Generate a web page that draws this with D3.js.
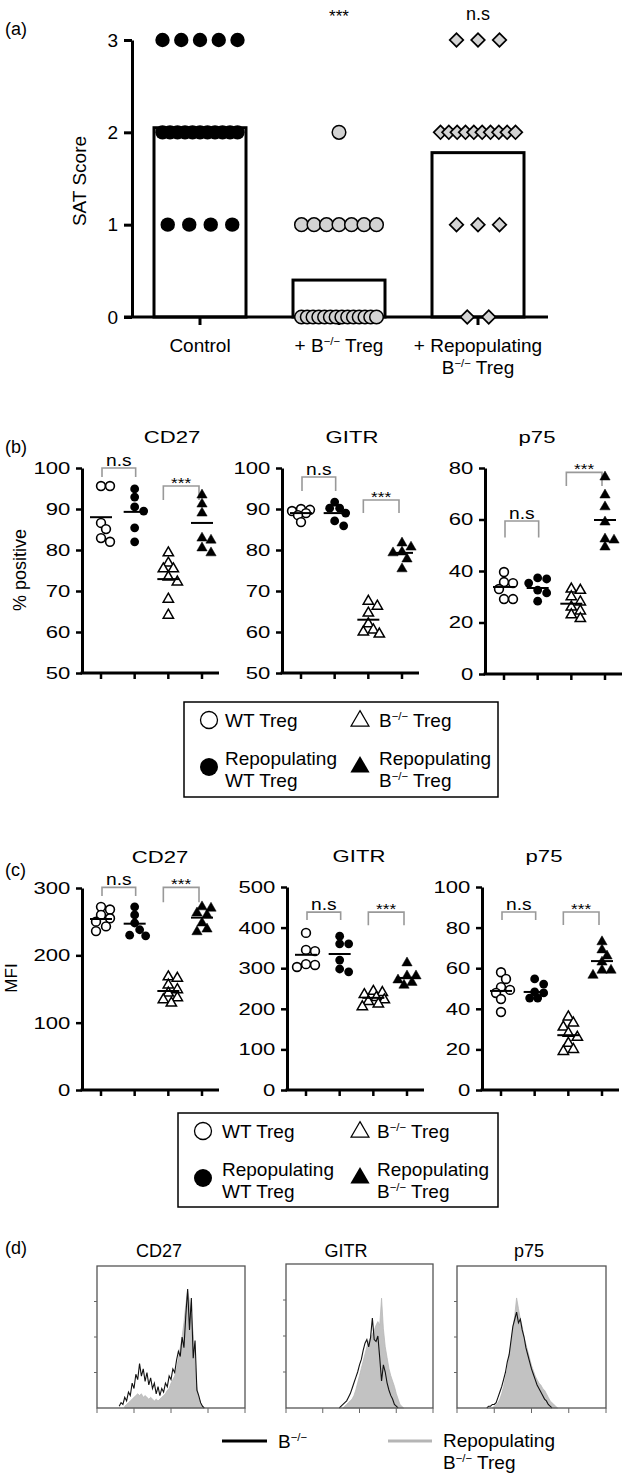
<!DOCTYPE html>
<html><head><meta charset="utf-8">
<script src="https://cdn.jsdelivr.net/npm/d3@7"></script>
<style>body{margin:0;background:#fff}svg{display:block}</style>
</head><body><svg id="c" width="622" height="1475"></svg>
<script>
// ---------------- DATA ----------------
// (a) SAT score
const satGroups = ["Control", "+ B−/− Treg", "+ Repopulating B−/− Treg"];
const satControl = [3,3,3,3,3, 2,2,2,2,2,2,2,2,2,2,2, 1,1,1,1];
const satBko = [2, 1,1,1,1,1,1,1, 0,0,0,0,0,0,0,0,0,0,0,0,0,0];
const satRepop = [3,3,3, 2,2,2,2,2,2,2,2,2,2, 1,1,1, 0,0];
const satMeans = [2.05, 0.40, 1.78];
const satTicks = [0, 1, 2, 3];
const satSig = ["", "***", "n.s"];

// (b),(c) groups
const cellGroups = ["WT Treg", "Repopulating WT Treg", "B−/− Treg", "Repopulating B−/− Treg"];
const markers = ["CD27", "GITR", "p75"];

// (b) % positive
const pctCD27 = [[95.6,95.6,86.6,85.1,82.9,82.0],[94.9,92.9,90.5,89.5,85.4,82.0],[79.3,76.8,75.4,75.4,73.4,72.2,68.0,64.1],[93.4,91.2,89.0,82.9,82.4,80.5,79.3]];
const pctCD27Mean = [88.0, 89.3, 72.9, 86.6];
const pctGITR = [[90.0,89.8,89.5,89.0,88.5,86.8],[91.7,90.2,90.2,89.0,87.1,85.9],[67.5,66.3,64.6,62.0,60.5,59.5,60.0],[81.7,80.7,79.5,79.3,77.8,75.4]];
const pctGITRMean = [89.0, 89.0, 63.0, 79.3];
const pctP75 = [[39.6,35.7,35.3,33.0,29.1,29.1],[37.3,36.9,35.3,32.6,31.5,28.3],[33.0,32.5,30.0,28.0,26.0,24.5,23.0,21.5],[76.5,69.5,64.9,59.0,52.4,52.0,49.3]];
const pctP75Mean = [33.8, 33.4, 27.3, 59.8];
const pctTicksCD27 = [50,60,70,80,90,100];
const pctTicksGITR = [50,60,70,80,90,100];
const pctTicksP75 = [0,20,40,60,80];
// significance: [label, top, legEnd]
const pctSigCD27 = [["n.s",100,97.8],["***",95.6,92.2]];
const pctSigGITR = [["n.s",97.8,94.4],["***",92.2,89.0]];
const pctSigP75 = [["n.s",59.4,53.0],["***",78.3,73.0]];

// (c) MFI
const mfiCD27 = [[272,268,260,255,250,243,236],[272,260,248,238,229,230],[168,166,156,149,144,137,134,129],[272,270,263,260,248,239,235]];
const mfiCD27Mean = [254, 247, 147, 256];
const mfiGITR = [[387,345,342,310,303,308],[379,360,360,320,298,291],[243,240,235,228,222,218,212,205],[313,281,281,271,265,258]];
const mfiGITRMean = [333, 335, 227, 276];
const mfiP75 = [[58,54.7,50.7,49.3,47.8,44.8,38.4],[54.7,52.2,48.3,47.8,45.3,45.3],[36,33,31,28,26,23,20,19],[73,69,66,63,59,59,56.5]];
const mfiP75Mean = [48.8, 48.3, 27.0, 63.5];
const mfiTicksCD27 = [0,100,200,300];
const mfiTicksGITR = [0,100,200,300,400,500];
const mfiTicksP75 = [0,20,40,60,80,100];
const mfiSigCD27 = [["n.s",301,288],["***",301,279]];
const mfiSigGITR = [["n.s",438,419],["***",438,406]];
const mfiSigP75 = [["n.s",87.7,83.7],["***",87.7,81.3]];

// (d) histograms (log decades 0-4, bins of 0.05 decade)
const binWidth = 0.05;
const cd27KoStart = 0.60;
const cd27Ko = [0.05,0.15,0.1,0.3,0.2,0.45,0.35,0.7,0.55,0.95,0.8,1.25,0.9,1.1,0.75,1.0,0.65,0.85,0.55,0.7,0.4,0.6,0.35,0.55,0.45,0.7,0.6,0.9,0.8,1.1,1.0,1.35,1.6,1.45,2.0,1.7,2.6,3.35,2.2,3.1,1.4,1.9,0.5,0.35,0.15,0.05,0];
const cd27RepStart = 0.75;
const cd27Rep = [0.05,0.1,0.15,0.2,0.25,0.3,0.35,0.4,0.35,0.4,0.3,0.35,0.3,0.25,0.3,0.25,0.2,0.25,0.2,0.25,0.3,0.35,0.4,0.5,0.55,0.7,0.8,0.9,1.1,1.4,1.7,2.0,2.4,2.9,3.3,3.0,2.6,2.1,1.2,0.6,0.3,0.15,0.05,0];
const gitrKoStart = 1.45;
const gitrKo = [0,0.05,0.1,0.15,0.2,0.3,0.4,0.55,0.7,0.85,1.0,1.2,1.35,1.6,1.8,1.9,1.7,1.95,2.5,1.9,1.85,2.0,1.4,0.75,1.2,1.0,0.7,0.5,0.35,0.25,0.1,0.05,0];
const gitrRepStart = 1.55;
const gitrRep = [0,0.05,0.1,0.15,0.2,0.25,0.35,0.5,0.7,0.9,1.1,1.3,1.5,1.7,1.85,1.95,2.05,2.15,2.3,2.4,2.3,3.05,2.2,1.7,1.4,1.1,0.9,0.75,0.6,0.4,0.25,0.1,0.05,0];
const p75KoStart = 0.80;
const p75Ko = [0,0.05,0.05,0.1,0.1,0.15,0.3,0.45,0.6,0.8,1.0,1.3,1.5,1.9,2.3,2.5,2.7,2.4,2.5,2.2,2.0,1.7,1.5,1.3,1.1,0.95,0.8,0.65,0.55,0.45,0.35,0.25,0.2,0.1,0.05,0];
const p75RepStart = 0.95;
const p75Rep = [0,0.05,0.1,0.15,0.25,0.4,0.6,0.85,1.1,1.5,1.8,2.2,2.6,3.1,2.8,2.5,2.3,2.0,1.8,1.6,1.4,1.2,1.05,0.9,0.8,0.7,0.65,0.55,0.5,0.4,0.3,0.2,0.15,0.1,0.05,0];
const histXTicks = [0,1,2,3,4];
const histYTicks = [1,2,3];

// ---------------- DRAW ----------------
const FONT = '"Liberation Sans", Arial, Helvetica, sans-serif';
const svg = d3.select("#c").attr("font-family", FONT);
const GRAYFILL = "#d3d3d3";

function rich(parent, x, y, parts, size, anchor, transform) {
  const t = parent.append("text").attr("font-size", size).attr("text-anchor", anchor || "start");
  if (transform) t.attr("transform", transform); else t.attr("x", x).attr("y", y);
  let up = false;
  parts.forEach(p => {
    const s = t.append("tspan");
    if (typeof p === "string") {
      if (up) { s.attr("dy", size * 0.38); up = false; }
      s.text(p);
    } else {
      s.attr("font-size", size * 0.6).attr("dy", -size * 0.38).text(p.sup);
      up = true;
    }
  });
  return t;
}
const SUP = {sup: "−/−"};

// ---- panel labels
[["(a)", 35], ["(b)", 453], ["(c)", 876], ["(d)", 1254]].forEach(([l, y]) =>
  svg.append("text").attr("x", 5).attr("y", y).attr("font-size", 18).text(l));

// ---- (a)
(function () {
  const g = svg.append("g");
  const y = d3.scaleLinear().domain([0, 3]).range([317, 40]);
  const x = d3.scalePoint().domain(satGroups).range([200, 478]);
  g.selectAll("rect.bar").data(satMeans).join("rect")
    .attr("x", (d, i) => x(satGroups[i]) - 46).attr("width", 92)
    .attr("y", d => y(d)).attr("height", d => y(0) - y(d))
    .attr("fill", "none").attr("stroke", "#000").attr("stroke-width", 3);
  const ya = g.append("g").attr("transform", "translate(132,0)")
    .call(d3.axisLeft(y).tickValues(satTicks).tickFormat(d3.format("d")).tickSize(8).tickSizeOuter(0).tickPadding(6));
  ya.attr("font-family", FONT).attr("font-size", 19);
  ya.selectAll("path,line").attr("stroke", "#000").attr("stroke-width", 3);
  ya.selectAll("text").attr("fill", "#000");
  g.append("line").attr("x1", 124).attr("x2", 548).attr("y1", y(0)).attr("y2", y(0)).attr("stroke", "#000").attr("stroke-width", 3);
  g.selectAll("line.xt").data(satGroups).join("line")
    .attr("x1", d => x(d)).attr("x2", d => x(d)).attr("y1", y(0)).attr("y2", y(0) + 8)
    .attr("stroke", "#000").attr("stroke-width", 3);
  rich(g, x(satGroups[0]), 352, ["Control"], 19, "middle");
  rich(g, x(satGroups[1]), 352, ["+ B", SUP, " Treg"], 19, "middle");
  rich(g, x(satGroups[2]), 352, ["+ Repopulating"], 19, "middle");
  rich(g, x(satGroups[2]), 374, ["B", SUP, " Treg"], 19, "middle");
  g.append("text").attr("transform", "translate(86,181) rotate(-90)").attr("text-anchor", "middle").attr("font-size", 19).text("SAT Score");
  g.append("text").attr("x", x(satGroups[1])).attr("y", 22).attr("text-anchor", "middle").attr("font-size", 17).text(satSig[1]);
  g.append("text").attr("x", x(satGroups[2])).attr("y", 20).attr("text-anchor", "middle").attr("font-size", 18).text(satSig[2]);
  function rowPos(vals, cx) {
    const out = [];
    d3.groups(vals, v => v).forEach(([v, arr]) => {
      const n = arr.length;
      const sp = n > 1 ? Math.min(21.5, 75 / (n - 1)) : 0;
      arr.forEach((_, i) => out.push({v, x: cx + (i - (n - 1) / 2) * sp}));
    });
    return out;
  }
  const c0 = rowPos(satControl, x(satGroups[0]));
  g.selectAll("circle.c0").data(c0).join("circle").attr("cx", d => d.x).attr("cy", d => y(d.v)).attr("r", 7.2).attr("fill", "#000");
  const c1 = rowPos(satBko, x(satGroups[1]));
  g.selectAll("circle.c1").data(c1).join("circle").attr("cx", d => d.x).attr("cy", d => y(d.v)).attr("r", 6.8)
    .attr("fill", GRAYFILL).attr("stroke", "#000").attr("stroke-width", 1.5);
  const c2 = rowPos(satRepop, x(satGroups[2]));
  const dia = d3.symbol(d3.symbolSquare, 92)();
  g.selectAll("path.c2").data(c2).join("path").attr("d", dia)
    .attr("transform", d => `translate(${d.x},${y(d.v)}) rotate(45)`)
    .attr("fill", GRAYFILL).attr("stroke", "#000").attr("stroke-width", 1.7);
})();

// ---- dot charts (b), (c)
function swarm(vals, y, cx) {
  const placed = [];
  const idx = vals.map((v, i) => i).sort((a, b) => vals[b] - vals[a]);
  const res = new Array(vals.length);
  const cands = [0, 5, -5, 9, -9, 3, -3, 7, -7, 11, -11];
  idx.forEach((i, k) => {
    const py = y(vals[i]);
    let best = 0, bestD = -1;
    for (const o of cands) {
      const d = placed.length ? d3.min(placed, p => Math.hypot(p.x - (cx + o), p.y - py)) : 99;
      if (d >= 7.5) { best = o; bestD = d; break; }
      if (d > bestD) { bestD = d; best = o; }
    }
    const p = {x: cx + best, y: py};
    placed.push(p); res[i] = p;
  });
  return res;
}
const triSmall = d3.symbol(d3.symbolTriangle, 46)();
function drawMarker(sel, gi, r) {
  if (gi < 2) {
    sel.append("circle").attr("r", r).attr("fill", gi === 0 ? "#fff" : "#000").attr("stroke", "#000").attr("stroke-width", gi === 0 ? 1.6 : 0);
  } else {
    sel.append("path").attr("d", triSmall).attr("fill", gi === 2 ? "#fff" : "#000").attr("stroke", "#000").attr("stroke-width", gi === 2 ? 1.5 : 0.5);
  }
}
function dotChart(cfg) {
  const g = svg.append("g");
  const SX = 1.3;
  const y = d3.scaleLinear().domain([cfg.ticks[0], cfg.ticks[cfg.ticks.length - 1]]).range([cfg.y0, cfg.y1]);
  const x = d3.scalePoint().domain(cellGroups).range([cfg.ax + 19, cfg.ax + 120]);
  const ya = g.append("g").attr("transform", `translate(${cfg.ax},0)`)
    .call(d3.axisLeft(y).tickValues(cfg.ticks).tickSize(6).tickSizeOuter(0).tickPadding(3));
  ya.attr("font-family", FONT).attr("font-size", 17);
  ya.select(".domain").attr("stroke", "#000").attr("stroke-width", 3);
  ya.selectAll(".tick line").attr("stroke", "#000").attr("stroke-width", 2.5);
  ya.selectAll(".tick text").attr("fill", "#000").attr("transform", `scale(${SX},1)`);
  g.append("line").attr("x1", cfg.ax - 1.5).attr("x2", cfg.ax + 137).attr("y1", cfg.y0).attr("y2", cfg.y0).attr("stroke", "#000").attr("stroke-width", 3);
  g.selectAll("line.xt").data(cellGroups).join("line").attr("x1", d => x(d)).attr("x2", d => x(d))
    .attr("y1", cfg.y0).attr("y2", cfg.y0 + 6).attr("stroke", "#000").attr("stroke-width", 2.5);
  g.append("text").attr("transform", `translate(${cfg.tx},${cfg.ty}) scale(${SX},1)`).attr("text-anchor", "middle").attr("font-size", 17).text(cfg.title);
  cfg.sig.forEach(([lab, top, leg], k) => {
    const xa = k === 0 ? x(cellGroups[0]) + 1 : x(cellGroups[2]) - 5;
    const xb = k === 0 ? x(cellGroups[1]) + 1 : x(cellGroups[3]) - 3;
    g.append("path").attr("d", `M${xa},${y(leg)}V${y(top)}H${xb}V${y(leg)}`)
      .attr("fill", "none").attr("stroke", "#999").attr("stroke-width", 1.6);
    if (lab === "n.s")
      g.append("text").attr("transform", `translate(${(xa + xb) / 2},${y(top) - 2}) scale(1.2,1)`).attr("text-anchor", "middle").attr("font-size", 16).text(lab);
    else
      g.append("text").attr("transform", `translate(${(xa + xb) / 2},${y(top) + 2}) scale(1.15,1)`).attr("text-anchor", "middle").attr("font-size", 15).text(lab);
  });
  cfg.data.forEach((vals, gi) => {
    const pts = swarm(vals, y, x(cellGroups[gi]));
    pts.forEach(p => {
      const m = g.append("g").attr("transform", `translate(${p.x},${p.y})`);
      drawMarker(m, gi, 4.4);
    });
    g.append("line").attr("x1", x(cellGroups[gi]) - 11).attr("x2", x(cellGroups[gi]) + 11)
      .attr("y1", y(cfg.means[gi])).attr("y2", y(cfg.means[gi])).attr("stroke", "#000").attr("stroke-width", 2);
  });
  return g;
}
dotChart({ax: 82, y0: 673, y1: 468, ticks: pctTicksCD27, data: pctCD27, means: pctCD27Mean, sig: pctSigCD27, title: markers[0], tx: 172, ty: 443});
dotChart({ax: 282, y0: 673, y1: 468, ticks: pctTicksGITR, data: pctGITR, means: pctGITRMean, sig: pctSigGITR, title: markers[1], tx: 352, ty: 443});
dotChart({ax: 485, y0: 674, y1: 468, ticks: pctTicksP75, data: pctP75, means: pctP75Mean, sig: pctSigP75, title: markers[2], tx: 537, ty: 443});
svg.append("text").attr("transform", "translate(26,570) rotate(-90)").attr("text-anchor", "middle").attr("font-size", 18).text("% positive");

dotChart({ax: 82, y0: 1090, y1: 888, ticks: mfiTicksCD27, data: mfiCD27, means: mfiCD27Mean, sig: mfiSigCD27, title: markers[0], tx: 160, ty: 863});
dotChart({ax: 287, y0: 1090, y1: 887, ticks: mfiTicksGITR, data: mfiGITR, means: mfiGITRMean, sig: mfiSigGITR, title: markers[1], tx: 359, ty: 862});
dotChart({ax: 482, y0: 1090, y1: 887, ticks: mfiTicksP75, data: mfiP75, means: mfiP75Mean, sig: mfiSigP75, title: markers[2], tx: 544, ty: 862});
svg.append("text").attr("transform", "translate(17,978) rotate(-90)").attr("text-anchor", "middle").attr("font-size", 17).text("MFI");

// ---- legends (b),(c)
function legend(x0, y0, w, h, cx1, tx1, cx2, tx2) {
  const g = svg.append("g");
  g.append("rect").attr("x", x0).attr("y", y0).attr("width", w).attr("height", h).attr("fill", "none").attr("stroke", "#000").attr("stroke-width", 1.5);
  const r1 = y0 + 18, r2 = y0 + 65;
  g.append("circle").attr("cx", cx1).attr("cy", r1).attr("r", 8.5).attr("fill", "#fff").attr("stroke", "#000").attr("stroke-width", 1.3);
  g.append("circle").attr("cx", cx1).attr("cy", r2).attr("r", 9).attr("fill", "#000");
  g.append("path").attr("d", d3.symbol(d3.symbolTriangle, 140)()).attr("transform", `translate(${cx2},${r1 + 1})`).attr("fill", "#fff").attr("stroke", "#000").attr("stroke-width", 1.2);
  g.append("path").attr("d", d3.symbol(d3.symbolTriangle, 160)()).attr("transform", `translate(${cx2},${r2})`).attr("fill", "#000");
  rich(g, tx1, r1 + 7, ["WT Treg"], 19);
  rich(g, tx2, r1 + 7, ["B", SUP, " Treg"], 19);
  rich(g, tx1, r2 - 2, ["Repopulating"], 19);
  rich(g, tx1, r2 + 20, ["WT Treg"], 19);
  rich(g, tx2, r2 - 2, ["Repopulating"], 19);
  rich(g, tx2, r2 + 20, ["B", SUP, " Treg"], 19);
}
legend(184, 702, 314, 95, 209, 225, 360, 379);
legend(178, 1113, 320, 94, 203, 222, 360, 377);

// ---- (d) histograms
function hist(cfg) {
  const g = svg.append("g");
  const x = d3.scaleLinear().domain([0, 4]).range([cfg.x0, cfg.x1]);
  const y = d3.scaleLinear().domain([0, 4]).range([1408, cfg.top]);
  const toPts = (start, arr) => arr.map((v, i) => [start + i * binWidth, v]);
  const rep = toPts(cfg.repStart, cfg.rep);
  const ko = toPts(cfg.koStart, cfg.ko);
  g.append("path").datum(rep).attr("d", d3.area().x(d => x(d[0])).y0(y(0)).y1(d => y(d[1])))
    .attr("fill", "#c2c2c2").attr("stroke", "#b8b8b8").attr("stroke-width", 0.8);
  g.append("path").datum(ko).attr("d", d3.line().x(d => x(d[0])).y(d => y(d[1])))
    .attr("fill", "none").attr("stroke", "#111").attr("stroke-width", 1.1);
  g.append("rect").attr("x", cfg.x0).attr("y", cfg.top).attr("width", cfg.x1 - cfg.x0).attr("height", 1408 - cfg.top)
    .attr("fill", "none").attr("stroke", "#555").attr("stroke-width", 1.3);
  g.selectAll("line.yt").data(histYTicks).join("line").attr("x1", cfg.x0 - 3).attr("x2", cfg.x0).attr("y1", d => y(d)).attr("y2", d => y(d)).attr("stroke", "#666").attr("stroke-width", 1);
  g.selectAll("line.xt").data(histXTicks).join("line").attr("x1", d => x(d)).attr("x2", d => x(d)).attr("y1", 1408).attr("y2", 1413).attr("stroke", "#666").attr("stroke-width", 1);
  g.append("text").attr("x", cfg.tx).attr("y", 1257).attr("text-anchor", "middle").attr("font-size", 18).text(cfg.title);
}
hist({x0: 97, x1: 245, top: 1266, ko: cd27Ko, koStart: cd27KoStart, rep: cd27Rep, repStart: cd27RepStart, title: markers[0], tx: 159});
hist({x0: 286, x1: 433, top: 1264, ko: gitrKo, koStart: gitrKoStart, rep: gitrRep, repStart: gitrRepStart, title: markers[1], tx: 346});
hist({x0: 457, x1: 606, top: 1266, ko: p75Ko, koStart: p75KoStart, rep: p75Rep, repStart: p75RepStart, title: markers[2], tx: 529});

svg.append("line").attr("x1", 222).attr("x2", 267).attr("y1", 1441).attr("y2", 1441).attr("stroke", "#000").attr("stroke-width", 3);
rich(svg, 278, 1448, ["B", SUP], 19);
svg.append("line").attr("x1", 388).attr("x2", 432).attr("y1", 1441).attr("y2", 1441).attr("stroke", "#b5b5b5").attr("stroke-width", 3);
rich(svg, 443, 1447, ["Repopulating"], 19);
rich(svg, 443, 1469, ["B", SUP, " Treg"], 19);
</script></body></html>
